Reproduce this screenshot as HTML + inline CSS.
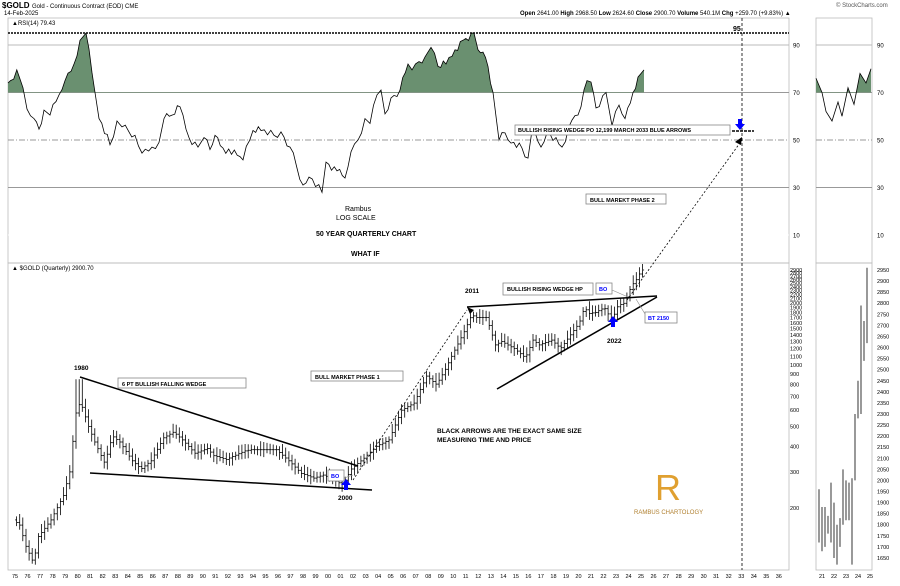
<!DOCTYPE html>
<html><head><meta charset="utf-8"><style>
body{margin:0;background:#fff;width:900px;height:581px;overflow:hidden;font-family:"Liberation Sans",sans-serif}
svg text{font-family:"Liberation Sans",sans-serif}
</style></head><body>
<svg id="s" width="900" height="581" xmlns="http://www.w3.org/2000/svg">
<defs><clipPath id="rsiClip"><rect x="8" y="18" width="781" height="75"/></clipPath>
<clipPath id="rsiClip2"><rect x="816" y="18" width="56" height="75"/></clipPath></defs>
<rect width="900" height="581" fill="#fff"/>
<text x="2" y="8" font-size="8" font-weight="bold">$GOLD</text><text x="32" y="8" font-size="6">Gold - Continuous Contract (EOD) CME</text>
<text x="4" y="15" font-size="6">14-Feb-2025</text>
<text x="836" y="7" font-size="6" fill="#555">© StockCharts.com</text>
<text x="520" y="15" font-size="6"><tspan font-weight="bold">Open</tspan> 2641.00 <tspan font-weight="bold">High</tspan> 2968.50 <tspan font-weight="bold">Low</tspan> 2624.60 <tspan font-weight="bold">Close</tspan> 2900.70 <tspan font-weight="bold">Volume</tspan> 540.1M <tspan font-weight="bold">Chg</tspan> +259.70 (+9.83%) ▲</text>
<rect x="8" y="18" width="781" height="245" fill="none" stroke="#bbb" stroke-width="0.8"/>
<rect x="8" y="263" width="781" height="307" fill="none" stroke="#bbb" stroke-width="0.8"/>
<rect x="816" y="18" width="56" height="245" fill="none" stroke="#bbb" stroke-width="0.8"/>
<rect x="816" y="263" width="56" height="307" fill="none" stroke="#bbb" stroke-width="0.8"/>
<text x="12" y="25" font-size="6">▲RSI(14) 79.43</text>
<text x="12" y="270" font-size="6">▲ $GOLD (Quarterly) 2900.70</text>
<g id="g"></g>
<line x1="8" y1="33" x2="789" y2="33" stroke="#000" stroke-width="1.5" stroke-dasharray="2,1"/>
<text x="733" y="31" font-size="7" font-weight="bold">95</text>
<line x1="742" y1="18" x2="742" y2="570" stroke="#000" stroke-width="0.8" stroke-dasharray="3,2"/>
<g stroke="#000" stroke-width="1.5">
<line x1="80" y1="377" x2="358" y2="466"/><line x1="90" y1="473" x2="372" y2="490"/>
<line x1="467" y1="307" x2="657" y2="296"/><line x1="497" y1="389" x2="657" y2="297"/>
</g>
<g stroke="#000" stroke-width="0.8" stroke-dasharray="2,2" fill="none">
<line x1="353" y1="480" x2="467" y2="310"/><line x1="627" y1="300" x2="742" y2="140"/>
</g>
<polygon points="467,307 474,310 470,314" fill="#000"/><polygon points="742,137 735,142 741,145" fill="#000"/>
<line x1="732" y1="131" x2="754" y2="131" stroke="#000" stroke-width="1.5" stroke-dasharray="3,1"/>
<g fill="#00f">
<polygon points="346,479 341,485 344,485 344,490 348,490 348,485 351,485"/>
<polygon points="613,316 608,322 611,322 611,327 615,327 615,322 618,322"/>
<polygon points="740,130 735,124 738,124 738,119 742,119 742,124 745,124"/>
</g>
<g font-size="6.5" font-weight="bold">
<text x="74" y="370">1980</text><text x="338" y="500">2000</text><text x="465" y="293">2011</text><text x="607" y="343">2022</text>
<text x="345" y="211" font-size="7" font-weight="normal">Rambus</text><text x="336" y="220" font-size="7" font-weight="normal">LOG SCALE</text>
<text x="316" y="236" font-size="7">50 YEAR QUARTERLY CHART</text><text x="351" y="256" font-size="7">WHAT IF</text>
<text x="437" y="433">BLACK ARROWS ARE THE EXACT SAME SIZE</text><text x="437" y="442">MEASURING TIME AND PRICE</text>
</g>
<g font-size="5.5" font-weight="bold" stroke-width="0.8">
<rect x="118" y="378" width="128" height="10" fill="#fff" stroke="#888"/><text x="122" y="386">6 PT BULLISH FALLING WEDGE</text>
<rect x="311" y="371" width="92" height="10" fill="#fff" stroke="#888"/><text x="315" y="379">BULL MARKET PHASE 1</text>
<rect x="503" y="283" width="90" height="12" fill="#fff" stroke="#888"/><text x="507" y="291">BULLISH RISING WEDGE HP</text>
<rect x="515" y="125" width="215" height="10" fill="#fff" stroke="#888"/><text x="518" y="132">BULLISH RISING WEDGE PO 12,199  MARCH 2033 BLUE ARROWS</text>
<rect x="586" y="194" width="80" height="10" fill="#fff" stroke="#888"/><text x="590" y="202">BULL MAREKT PHASE 2</text>
<rect x="328" y="470" width="16" height="11" fill="#fff" stroke="#888"/><text x="331" y="478" fill="#00f">BO</text>
<rect x="596" y="283" width="16" height="11" fill="#fff" stroke="#888"/><text x="599" y="291" fill="#00f">BO</text>
<rect x="645" y="312" width="32" height="11" fill="#fff" stroke="#888"/><text x="648" y="320" fill="#00f">BT 2150</text>
</g>
<line x1="353" y1="475" x2="344" y2="478" stroke="#888" stroke-width="0.6"/>
<line x1="612" y1="290" x2="628" y2="297" stroke="#888" stroke-width="0.6"/>
<line x1="645" y1="314" x2="636" y2="299" stroke="#888" stroke-width="0.6"/>
<text x="655" y="500" font-size="36" fill="#e0a030" font-family="Liberation Serif">R</text>
<text x="634" y="514" font-size="6" fill="#b08030">RAMBUS CHARTOLOGY</text>
</svg>
<script>
var g=document.getElementById('g'),h='';
function X(y){return 15+12.52*(y-1975);}
function P(p){return 508-89*Math.log(p/200);}
function R(r){return 140-2.375*(r-50);}
[[90,'#bbb',''],[70,'#999',''],[50,'#999','6,2,1,2'],[30,'#999',''],[10,'#fff','']].forEach(function(a){
 h+='<line x1="8" x2="789" y1="'+R(a[0])+'" y2="'+R(a[0])+'" stroke="'+a[1]+'" stroke-width="1" stroke-dasharray="'+a[2]+'"/>';
 h+='<text x="793" y="'+(R(a[0])+2.5)+'" font-size="6">'+a[0]+'</text><text x="877" y="'+(R(a[0])+2.5)+'" font-size="6">'+a[0]+'</text>';
 if(a[0]!=10)h+='<line x1="816" x2="872" y1="'+R(a[0])+'" y2="'+R(a[0])+'" stroke="'+a[1]+'" stroke-dasharray="'+a[2]+'"/>';
});
var rk=[[8,74],[10.5,75],[16.8,79.5],[23,72],[27,63],[34,59],[39,54.6],[44,62.6],[50,60.5],[59,69],[65,75],[74,82],[80,92],[86,95],[95,70],[99,59],[110,48],[117,58],[122,55.5],[135,52],[142,44.5],[152,47],[159,49],[164,59],[172,60.5],[180,64],[189,51],[198,47],[204,51],[210,46],[215,52],[223,46.6],[240,43],[243,41.6],[253,54],[261,54],[274,52],[281,53.4],[290,47],[303,31],[309,34.4],[322,28],[326,40.7],[337,37],[345,34],[351,45],[358,50],[365,59],[370,57],[377,69],[381,71],[385,61],[391,67.7],[400,71],[408,82],[412,79.5],[419,83],[425,85],[431,89],[438,81],[446,82],[455,88],[463,92],[474,95],[478,88],[483,87],[488,81],[493,70],[499,50],[505,53],[511,48.7],[522,46.6],[528,42.4],[532,54],[541,47],[547,53],[562,47],[572,58.4],[581,64],[587,75],[591,74.4],[596,63.5],[606,70],[612,56],[619,64.7],[625,59],[633,70],[638,76.5],[644,79.5]];
var sub=[];for(var i=0;i<rk.length-1;i++){var n=Math.max(1,Math.round((rk[i+1][0]-rk[i][0])/3));for(var k=0;k<n;k++){var t=k/n;sub.push([rk[i][0]+t*(rk[i+1][0]-rk[i][0]),rk[i][1]+t*(rk[i+1][1]-rk[i][1])+(k>0?((i*7+k*3)%5-2)*0.8:0)]);}}sub.push(rk[rk.length-1]);
var pts=sub.map(function(p){return p[0].toFixed(1)+','+R(p[1]).toFixed(1)}).join(' ');
h+='<polygon clip-path="url(#rsiClip)" points="8,'+R(70)+' '+pts+' 644,'+R(70)+'" fill="#6a9070"/>';
h+='<polyline points="'+pts+'" fill="none" stroke="#000" stroke-width="0.8"/>';
var ins=[[816,76],[822,70],[826,62],[832,58],[838,66],[842,60],[848,72],[854,65],[860,78],[866,74],[871,80]];
var ip=ins.map(function(p){return p[0]+','+R(p[1])}).join(' ');
h+='<polygon clip-path="url(#rsiClip2)" points="816,'+R(70)+' '+ip+' 871,'+R(70)+'" fill="#6a9070"/><polyline points="'+ip+'" fill="none" stroke="#000" stroke-width="0.8"/>';
var kp=[[1975,175],[1975.5,165],[1976,130],[1976.6,108],[1977,145],[1978,175],[1979,230],[1979.5,300],[1979.9,520],[1980.1,650],[1980.5,620],[1981,500],[1981.5,420],[1982.3,330],[1982.9,450],[1983.5,420],[1984.5,340],[1985.2,310],[1986,340],[1987,440],[1987.8,470],[1988.5,430],[1989.5,370],[1990.5,390],[1991,360],[1992,345],[1993.5,380],[1994,385],[1996,385],[1997,340],[1998,295],[1999,280],[1999.8,290],[2000.5,275],[2001.3,260],[2002,310],[2003,350],[2004,400],[2005,430],[2006,600],[2007,650],[2008,880],[2008.8,800],[2009.5,950],[2010,1100],[2011,1450],[2011.6,1750],[2012,1700],[2012.8,1700],[2013.5,1250],[2014,1300],[2015,1200],[2015.9,1080],[2016.5,1320],[2017,1250],[2018,1320],[2018.7,1200],[2019.5,1400],[2020.2,1600],[2020.6,1900],[2021,1780],[2021.5,1800],[2022.2,1900],[2022.8,1650],[2023.3,1950],[2023.8,2000],[2024.2,2300],[2024.6,2550],[2024.9,2650],[2025.1,2900]];
function pr(y){for(var i=0;i<kp.length-1;i++){if(y<=kp[i+1][0]){var t=(y-kp[i][0])/(kp[i+1][0]-kp[i][0]);return Math.exp(Math.log(kp[i][1])+t*(Math.log(kp[i+1][1])-Math.log(kp[i][1])));}}return kp[kp.length-1][1];}
var prev=pr(1975);
for(var q=0;q<201;q++){var y=1975+q/4,c=pr(y+0.25),o=prev;var hi=Math.max(o,c)*(1.04+((q*13)%7)/100),lo=Math.min(o,c)*(0.96-((q*11)%5)/100);
 if(Math.abs(y-1980)<0.3)hi=Math.max(hi,850);
 var x=X(y+0.125).toFixed(1);
 h+='<line x1="'+x+'" x2="'+x+'" y1="'+P(hi).toFixed(1)+'" y2="'+P(lo).toFixed(1)+'" stroke="#000" stroke-width="0.8"/>';
 h+='<line x1="'+(x-1.5)+'" x2="'+x+'" y1="'+P(o).toFixed(1)+'" y2="'+P(o).toFixed(1)+'" stroke="#000" stroke-width="0.8"/>';
 h+='<line x1="'+x+'" x2="'+(+x+1.5)+'" y1="'+P(c).toFixed(1)+'" y2="'+P(c).toFixed(1)+'" stroke="#000" stroke-width="0.8"/>';
 prev=c;}
[2900,2800,2700,2600,2500,2400,2300,2200,2100,2000,1900,1800,1700,1600,1500,1400,1300,1200,1100,1000,900,800,700,600,500,400,300,200].forEach(function(v){h+='<text x="790" y="'+(P(v)+2).toFixed(1)+'" font-size="5.5">'+v+'</text>';});
for(var yr=1975;yr<=2036;yr++){var s=String(yr%100).padStart(2,'0');h+='<text x="'+(X(yr)-3).toFixed(1)+'" y="578" font-size="5.5">'+s+'</text>';}
['21','22','23','24','25'].forEach(function(s,i){h+='<text x="'+(819+i*12)+'" y="578" font-size="5.5">'+s+'</text>';});
function IY(v){return 270+(2950-v)*0.2215;}
for(var v=1650;v<=2950;v+=50)h+='<text x="877" y="'+(IY(v)+2).toFixed(1)+'" font-size="5.5">'+v+'</text>';
var ib=[[1720,1960],[1680,1880],[1700,1880],[1760,1840],[1720,1990],[1650,1900],[1620,1800],[1700,1830],[1800,2050],[1820,2000],[1820,1990],[1620,2010],[2000,2300],[2280,2450],[2300,2790],[2540,2720],[2620,2960]];
ib.forEach(function(b,i){var x=819+i*3;h+='<line x1="'+x+'" x2="'+x+'" y1="'+IY(b[1])+'" y2="'+IY(b[0])+'" stroke="#000" stroke-width="0.8"/>';});
g.innerHTML=h;
</script>
</body></html>
